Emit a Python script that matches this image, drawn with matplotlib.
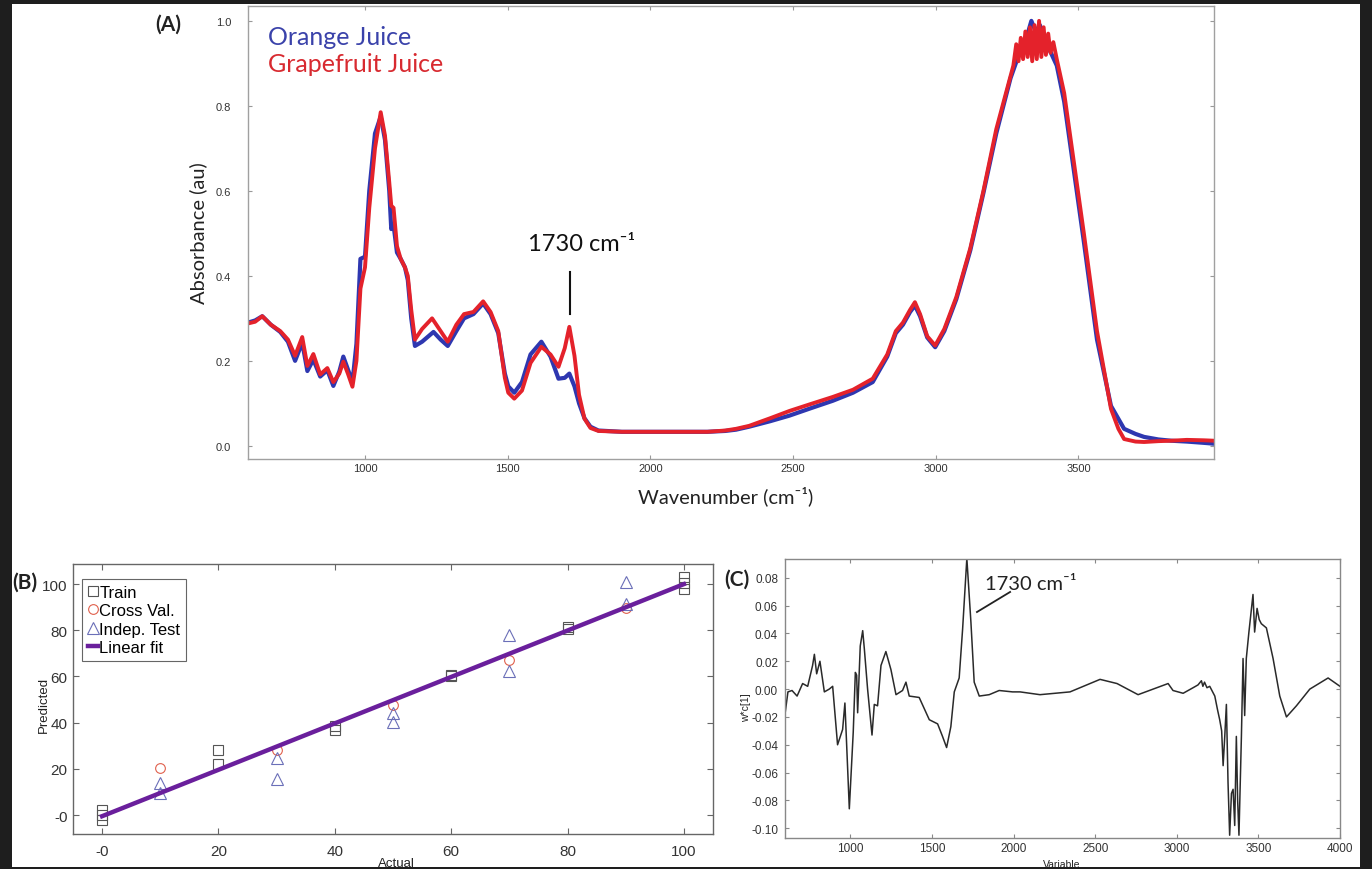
import numpy as np
import matplotlib.pyplot as plt
from matplotlib.patches import Rectangle

plt.rcParams['font.family'] = ['Liberation Sans', 'DejaVu Sans']
CAL = ['Lato', 'DejaVu Sans']

# ---------------- (A) FTIR spectra ----------------
wn_orange = [590, 615, 640, 670, 703, 730, 755, 780, 798, 819, 843, 868, 889, 910,
             924, 940, 956, 970, 984, 1000, 1015, 1035, 1055, 1070, 1085, 1092, 1100,
             1112, 1125, 1140, 1150, 1162, 1175, 1200, 1240, 1265, 1290, 1320, 1347,
             1380, 1414, 1440, 1467, 1490, 1502, 1523, 1550, 1580, 1618, 1650, 1678,
             1700, 1716, 1734, 1750, 1769, 1790, 1818, 1900, 2000, 2100, 2200, 2262,
             2300, 2346, 2420, 2487, 2560, 2639, 2710, 2779, 2830, 2860, 2885, 2910,
             2927, 2945, 2970, 2998, 3030, 3072, 3121, 3167, 3212, 3262, 3283, 3300,
             3320, 3335, 3350, 3365, 3380, 3400, 3424, 3450, 3473, 3519, 3565, 3614,
             3660, 3700, 3730, 3780, 3825, 3880, 3940, 3975]
abs_orange = [0.290, 0.295, 0.305, 0.285, 0.268, 0.245, 0.200, 0.243, 0.176, 0.203,
              0.163, 0.178, 0.141, 0.175, 0.210, 0.180, 0.150, 0.240, 0.440, 0.445,
              0.600, 0.735, 0.775, 0.720, 0.600, 0.510, 0.520, 0.455, 0.440, 0.420,
              0.390, 0.300, 0.235, 0.245, 0.268, 0.250, 0.235, 0.270, 0.300, 0.310,
              0.335, 0.310, 0.265, 0.170, 0.140, 0.125, 0.150, 0.215, 0.245, 0.210,
              0.158, 0.160, 0.170, 0.140, 0.100, 0.065, 0.045, 0.036, 0.033, 0.033,
              0.033, 0.033, 0.035, 0.038, 0.045, 0.058, 0.071, 0.088, 0.106, 0.125,
              0.150, 0.210, 0.265, 0.285, 0.315, 0.330, 0.305, 0.255, 0.232, 0.270,
              0.345, 0.460, 0.595, 0.735, 0.865, 0.905, 0.935, 0.965, 1.000, 0.975,
              0.990, 0.950, 0.930, 0.895, 0.810, 0.700, 0.480, 0.250, 0.094, 0.040,
              0.028, 0.021, 0.015, 0.012, 0.010, 0.007, 0.005]

wn_grape = [590, 615, 640, 670, 703, 730, 755, 780, 798, 819, 843, 868, 889, 910,
            924, 940, 956, 970, 984, 1000, 1015, 1035, 1055, 1070, 1085, 1092, 1100,
            1112, 1125, 1140, 1150, 1162, 1175, 1200, 1235, 1265, 1290, 1320, 1347,
            1380, 1414, 1440, 1467, 1490, 1502, 1523, 1550, 1580, 1618, 1650, 1678,
            1700, 1716, 1734, 1750, 1769, 1790, 1818, 1900, 2000, 2100, 2200, 2262,
            2300, 2346, 2420, 2487, 2560, 2639, 2710, 2779, 2830, 2860, 2885, 2910,
            2927, 2945, 2970, 2998, 3030, 3072, 3121, 3167, 3212, 3262, 3272, 3282,
            3290, 3298, 3306, 3314, 3322, 3330, 3338, 3346, 3354, 3362, 3370, 3378,
            3386, 3394, 3402, 3412, 3424, 3450, 3473, 3519, 3565, 3614, 3640, 3660,
            3700, 3730, 3780, 3825, 3880, 3940, 3975]
abs_grape = [0.288, 0.292, 0.305, 0.285, 0.270, 0.250, 0.212, 0.256, 0.188, 0.216,
             0.168, 0.183, 0.150, 0.170, 0.198, 0.170, 0.139, 0.200, 0.370, 0.420,
             0.560, 0.700, 0.785, 0.730, 0.620, 0.565, 0.560, 0.470, 0.440, 0.420,
             0.400, 0.320, 0.250, 0.275, 0.300, 0.270, 0.245, 0.285, 0.310, 0.315,
             0.340, 0.315, 0.270, 0.160, 0.125, 0.111, 0.130, 0.195, 0.233, 0.215,
             0.186, 0.230, 0.280, 0.212, 0.120, 0.064, 0.042, 0.035, 0.033, 0.033,
             0.033, 0.033, 0.036, 0.040, 0.047, 0.065, 0.082, 0.098, 0.115, 0.132,
             0.158, 0.215, 0.270, 0.290, 0.320, 0.338, 0.310, 0.258, 0.236, 0.275,
             0.350, 0.465, 0.600, 0.745, 0.870, 0.895, 0.945, 0.905, 0.960, 0.910,
             0.975, 0.915, 0.985, 0.905, 0.990, 0.910, 1.000, 0.915, 0.985, 0.920,
             0.970, 0.925, 0.950, 0.910, 0.830, 0.720, 0.500, 0.270, 0.087,
             0.040, 0.016, 0.010, 0.009, 0.011, 0.012, 0.014, 0.013, 0.012]

# ---------------- (B) predicted vs actual ----------------
train_actual = [0, 0, 0, 20, 20, 40, 40, 60, 60, 80, 80, 100, 100, 100]
train_pred = [2, 0, -2, 28, 22, 37, 38.5, 60, 60.5, 80.5, 81.5, 103, 100.5, 98]
cv_actual = [10, 30, 50, 70, 90]
cv_pred = [20.5, 28, 47.5, 67, 89.5]
test_actual = [10, 10, 30, 30, 50, 50, 70, 70, 90, 90]
test_pred = [14, 9.5, 24.5, 15.5, 44, 40.5, 78, 62.5, 101, 91.5]
fit_actual = [0, 100]
fit_pred = [-0.5, 100]

# ---------------- (C) loadings ----------------
wn_load = [600, 618, 643, 674, 708, 739, 769, 780, 794, 814, 841, 871, 892, 922,
           953, 967, 994, 1018, 1031, 1039, 1045, 1061, 1076, 1086, 1106, 1133, 1147,
           1167, 1188, 1218, 1249, 1280, 1320, 1341, 1361, 1422, 1484, 1535, 1565,
           1590, 1616, 1637, 1667, 1688, 1714, 1739, 1759, 1790, 1851, 1912, 1994,
           2040, 2162, 2346, 2530, 2634, 2763, 2855, 2947, 2977, 3039, 3100, 3130,
           3151, 3160, 3170, 3185, 3202, 3233, 3250, 3263, 3275, 3284, 3294, 3304,
           3314, 3324, 3335, 3345, 3355, 3365, 3373, 3381, 3396, 3406, 3416, 3426,
           3442, 3467, 3477, 3492, 3505, 3518, 3549, 3590, 3631, 3672, 3733, 3815,
           3927, 4000]
w_load = [-0.018, -0.002, -0.001, -0.005, 0.004, 0.002, 0.017, 0.025, 0.011, 0.020,
          -0.002, 0.000, 0.002, -0.040, -0.029, -0.010, -0.086, -0.031, 0.012, 0.010,
          -0.017, 0.031, 0.042, 0.029, 0.000, -0.033, -0.011, -0.012, 0.017, 0.027,
          0.014, -0.004, -0.001, 0.005, -0.005, -0.006, -0.022, -0.025, -0.034, -0.042,
          -0.027, -0.002, 0.008, 0.043, 0.094, 0.048, 0.005, -0.005, -0.004, -0.001,
          -0.002, -0.002, -0.004, -0.002, 0.007, 0.004, -0.004, 0.000, 0.004, -0.001,
          -0.003, 0.001, 0.003, 0.006, 0.002, 0.005, 0.001, 0.002, -0.005, -0.015,
          -0.022, -0.030, -0.055, -0.034, -0.011, -0.067, -0.105, -0.075, -0.072,
          -0.098, -0.034, -0.080, -0.105, -0.034, 0.022, -0.019, 0.022, 0.041, 0.068,
          0.041, 0.058, 0.050, 0.047, 0.044, 0.022, -0.005, -0.020, -0.012, 0.000,
          0.008, 0.002]

W, H = 1372, 870
fig = plt.figure(figsize=(W / 100, H / 100), dpi=100, facecolor='#1e1e1e')
fig.add_artist(Rectangle((12 / W, 2 / H), 1348 / W, 863 / H, transform=fig.transFigure,
                         facecolor='white', edgecolor='none', zorder=-1))


def box(l, t, r, b):
    return [l / W, 1 - b / H, (r - l) / W, (b - t) / H]


# ---- panel A ----
axA = fig.add_axes(box(248, 7, 1214, 460))
axA.plot(wn_orange, abs_orange, color='#2e37b0', lw=3)
axA.plot(wn_grape, abs_grape, color='#e4222b', lw=2.8)
axA.set_xlim(590, 3975)
axA.set_ylim(-0.031, 1.035)
axA.set_xticks([1000, 1500, 2000, 2500, 3000, 3500])
axA.set_yticks([0, 0.2, 0.4, 0.6, 0.8, 1.0])
axA.set_yticklabels(['0.0', '0.2', '0.4', '0.6', '0.8', '1.0'])
axA.tick_params(direction='in', top=True, right=True, length=3, width=0.8,
                color='#999999', labelcolor='#333333', labelsize=8)
axA.tick_params(axis='y', pad=12)
axA.tick_params(axis='x', pad=3)
for s in axA.spines.values():
    s.set_color('#a0a0a0')
    s.set_linewidth(1.0)
axA.set_ylabel('Absorbance (au)', family=CAL, fontsize=14.5, color='#222222')
axA.yaxis.set_label_coords(-0.042, 0.5)
axA.set_xlabel('Wavenumber (cm⁻¹)', family=CAL, fontsize=14.5, color='#222222')
axA.xaxis.set_label_coords(0.494, -0.058)
axA.text(0.021, 0.932, 'Orange Juice', transform=axA.transAxes, family=CAL,
         fontsize=18, color='#3a42aa', va='center')
axA.text(0.021, 0.872, 'Grapefruit Juice', transform=axA.transAxes, family=CAL,
         fontsize=18, color='#d82a30', va='center')
axA.plot([1720, 1720], [0.31, 0.41], color='#111111', lw=1.5)
axA.text(1759, 0.475, '1730 cm⁻¹', family=CAL, fontsize=17, color='#111111',
         ha='center', va='center')

# ---- panel B ----
axB = fig.add_axes(box(73, 565, 713, 835))
h_fit, = axB.plot(fit_actual, fit_pred, color='#6a1f9c', lw=3.2, zorder=3)
h_tr, = axB.plot(train_actual, train_pred, 's', mfc='none', mec='#555555', ms=6.5,
                 mew=0.8, zorder=2)
h_cv, = axB.plot(cv_actual, cv_pred, 'o', mfc='none', mec='#e0604c', ms=7,
                 mew=0.8, zorder=2)
h_te, = axB.plot(test_actual, test_pred, '^', mfc='none', mec='#6b6fb8', ms=8,
                 mew=0.8, zorder=2)
axB.set_xlim(-5, 105)
axB.set_ylim(-8.2, 108.7)
ticks_b = [0, 20, 40, 60, 80, 100]
labels_b = ['-0', '20', '40', '60', '80', '100']
axB.set_xticks(ticks_b)
axB.set_xticklabels(labels_b)
axB.set_yticks(ticks_b)
axB.set_yticklabels(labels_b)
axB.tick_params(direction='in', top=True, right=True, length=4, width=0.8,
                color='#666666', labelcolor='#333333', labelsize=11)
axB.tick_params(axis='x', pad=7)
axB.tick_params(axis='y', pad=4)
for s in axB.spines.values():
    s.set_color('#666666')
    s.set_linewidth(1.0)
axB.set_ylabel('Predicted', fontsize=9.5, color='#222222')
axB.yaxis.set_label_coords(-0.036, 0.48)
axB.set_xlabel('Actual', fontsize=9.5, color='#222222')
axB.xaxis.set_label_coords(0.506, -0.085)
leg = axB.legend([h_tr, h_cv, h_te, h_fit],
                 ['Train', 'Cross Val.', 'Indep. Test', 'Linear fit'],
                 loc='upper left', bbox_to_anchor=(0.014, 0.944), borderaxespad=0,
                 fontsize=12, handlelength=0.6, handletextpad=0.1, labelspacing=0.2,
                 borderpad=0.35, fancybox=False, framealpha=1, edgecolor='#666666')
leg.get_frame().set_linewidth(0.8)

# ---- panel C ----
axC = fig.add_axes(box(785, 560, 1340, 839))
axC.plot(wn_load, w_load, color='#2a2a2a', lw=1.1)
axC.set_xlim(600, 4000)
axC.set_ylim(-0.107, 0.0935)
axC.set_xticks([1000, 1500, 2000, 2500, 3000, 3500, 4000])
yt_c = [-0.10, -0.08, -0.06, -0.04, -0.02, 0.00, 0.02, 0.04, 0.06, 0.08]
axC.set_yticks(yt_c)
axC.set_yticklabels(['%.2f' % v for v in yt_c])
axC.tick_params(direction='in', top=True, right=True, length=3, width=0.8,
                color='#888888', labelcolor='#333333', labelsize=8.5)
axC.tick_params(axis='y', pad=5)
axC.tick_params(axis='x', pad=3)
for s in axC.spines.values():
    s.set_color('#888888')
    s.set_linewidth(1.0)
axC.set_ylabel('w*c[1]', fontsize=7.5, color='#222222')
axC.yaxis.set_label_coords(-0.062, 0.47)
axC.set_xlabel('Variable', fontsize=7.5, color='#222222')
axC.xaxis.set_label_coords(0.499, -0.075)
axC.plot([1776, 1979], [0.0554, 0.0698], color='#222222', lw=1.3)
axC.text(1825, 0.072, '1730 cm⁻¹', family=CAL, fontsize=14.5, color='#222222',
         ha='left', va='baseline')

# panel letters
fig.text(168 / W, 1 - 25 / H, '(A)', family=CAL, fontsize=15, fontweight='bold',
         ha='center', va='center', color='#222222')
fig.text(25 / W, 1 - 583 / H, '(B)', family=CAL, fontsize=15, fontweight='bold',
         ha='center', va='center', color='#222222')
fig.text(737 / W, 1 - 580 / H, '(C)', family=CAL, fontsize=15, fontweight='bold',
         ha='center', va='center', color='#222222')

fig.savefig('out.png', dpi=100, facecolor=fig.get_facecolor())
